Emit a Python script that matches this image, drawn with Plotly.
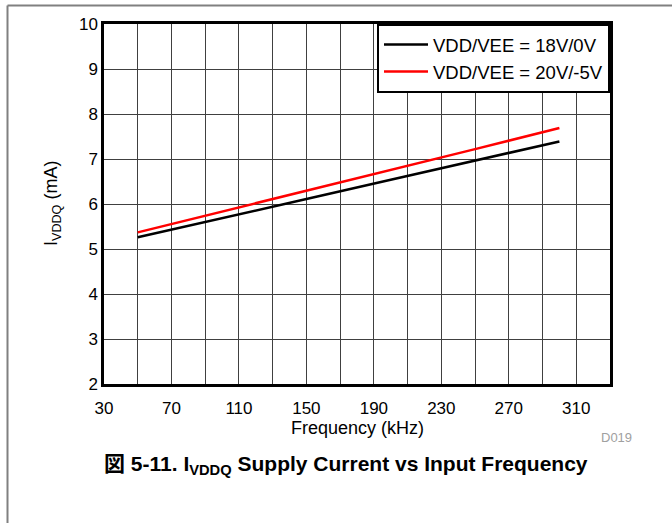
import plotly.graph_objects as go

freq_khz = [50, 100, 150, 200, 250, 300]
i_18v_0v = [5.26, 5.68, 6.11, 6.54, 6.97, 7.39]
i_20v_m5v = [5.37, 5.83, 6.30, 6.76, 7.22, 7.69]
series_names = ["VDD/VEE = 18V/0V", "VDD/VEE = 20V/-5V"]
x_ticks = [30, 70, 110, 150, 190, 230, 270, 310]
y_ticks = [2, 3, 4, 5, 6, 7, 8, 9, 10]

FONT = "Liberation Sans, Arial, Helvetica, Noto Sans CJK JP, sans-serif"

# plot area in pixels
L, R, T, B = 104, 610, 24, 384
W, H = 672, 523
pw, ph = R - L, B - T

def px(x):
    return (x - L) / pw

def py(y):
    return (B - y) / ph

fig = go.Figure()
fig.add_trace(go.Scatter(x=freq_khz, y=i_18v_0v, mode="lines", name=series_names[0],
                         line=dict(color="black", width=2.5)))
fig.add_trace(go.Scatter(x=freq_khz, y=i_20v_m5v, mode="lines", name=series_names[1],
                         line=dict(color="#ff0000", width=2.5)))

fig.update_layout(
    width=W, height=H,
    margin=dict(l=L, r=W - R, t=T, b=H - B, pad=0),
    paper_bgcolor="white", plot_bgcolor="white",
    font=dict(family=FONT, size=16, color="black"),
    showlegend=True,
    legend=dict(x=1, y=1, xanchor="right", yanchor="top",
                bgcolor="white", bordercolor="black", borderwidth=2,
                font=dict(size=18.5, family=FONT), itemwidth=44,
                tracegroupgap=0),
    xaxis=dict(range=[30, 330], tickvals=x_ticks, ticktext=[str(v) for v in x_ticks],
               showgrid=True, gridcolor="#404040", gridwidth=1,
               minor=dict(dtick=20, tick0=30, showgrid=True, gridcolor="#404040", gridwidth=1),
               showline=True, linecolor="black", linewidth=2.5, mirror=True,
               ticks="", ticklen=0, zeroline=False, ticklabelstandoff=7,
               tickfont=dict(size=17)),
    yaxis=dict(range=[2, 10], tickvals=y_ticks, ticktext=[str(v) for v in y_ticks],
               showgrid=True, gridcolor="#404040", gridwidth=1,
               showline=True, linecolor="black", linewidth=2.5, mirror=True,
               ticks="", zeroline=False, tickfont=dict(size=17)),
)

annotations = [
    dict(x=px(52), y=py(204), text="I<sub>VDDQ</sub> (mA)", textangle=-90,
         font=dict(size=18)),
    dict(x=px(357), y=py(428), text="Frequency (kHz)", font=dict(size=18)),
    dict(x=px(616), y=py(438), text="D019", font=dict(size=13, color="#a0a0a0")),
    dict(x=px(346), y=py(465),
         text="<b>図 5-11. I<sub>VDDQ</sub> Supply Current vs Input Frequency</b>",
         font=dict(size=21)),
]
for a in annotations:
    a.update(xref="paper", yref="paper", showarrow=False, xanchor="center", yanchor="middle")
fig.update_layout(annotations=annotations)

# page frame lines
fig.add_shape(type="line", xref="paper", yref="paper",
              x0=px(7.5), x1=px(W + 5), y0=py(5.5), y1=py(5.5),
              line=dict(color="#808080", width=2))
fig.add_shape(type="line", xref="paper", yref="paper",
              x0=px(7.5), x1=px(7.5), y0=py(5.5), y1=py(H + 5),
              line=dict(color="#808080", width=2))

fig.write_html(
    "out.html",
    config={"displayModeBar": False},
    post_script="document.body.style.margin='0';document.body.style.overflow='hidden';",
)
